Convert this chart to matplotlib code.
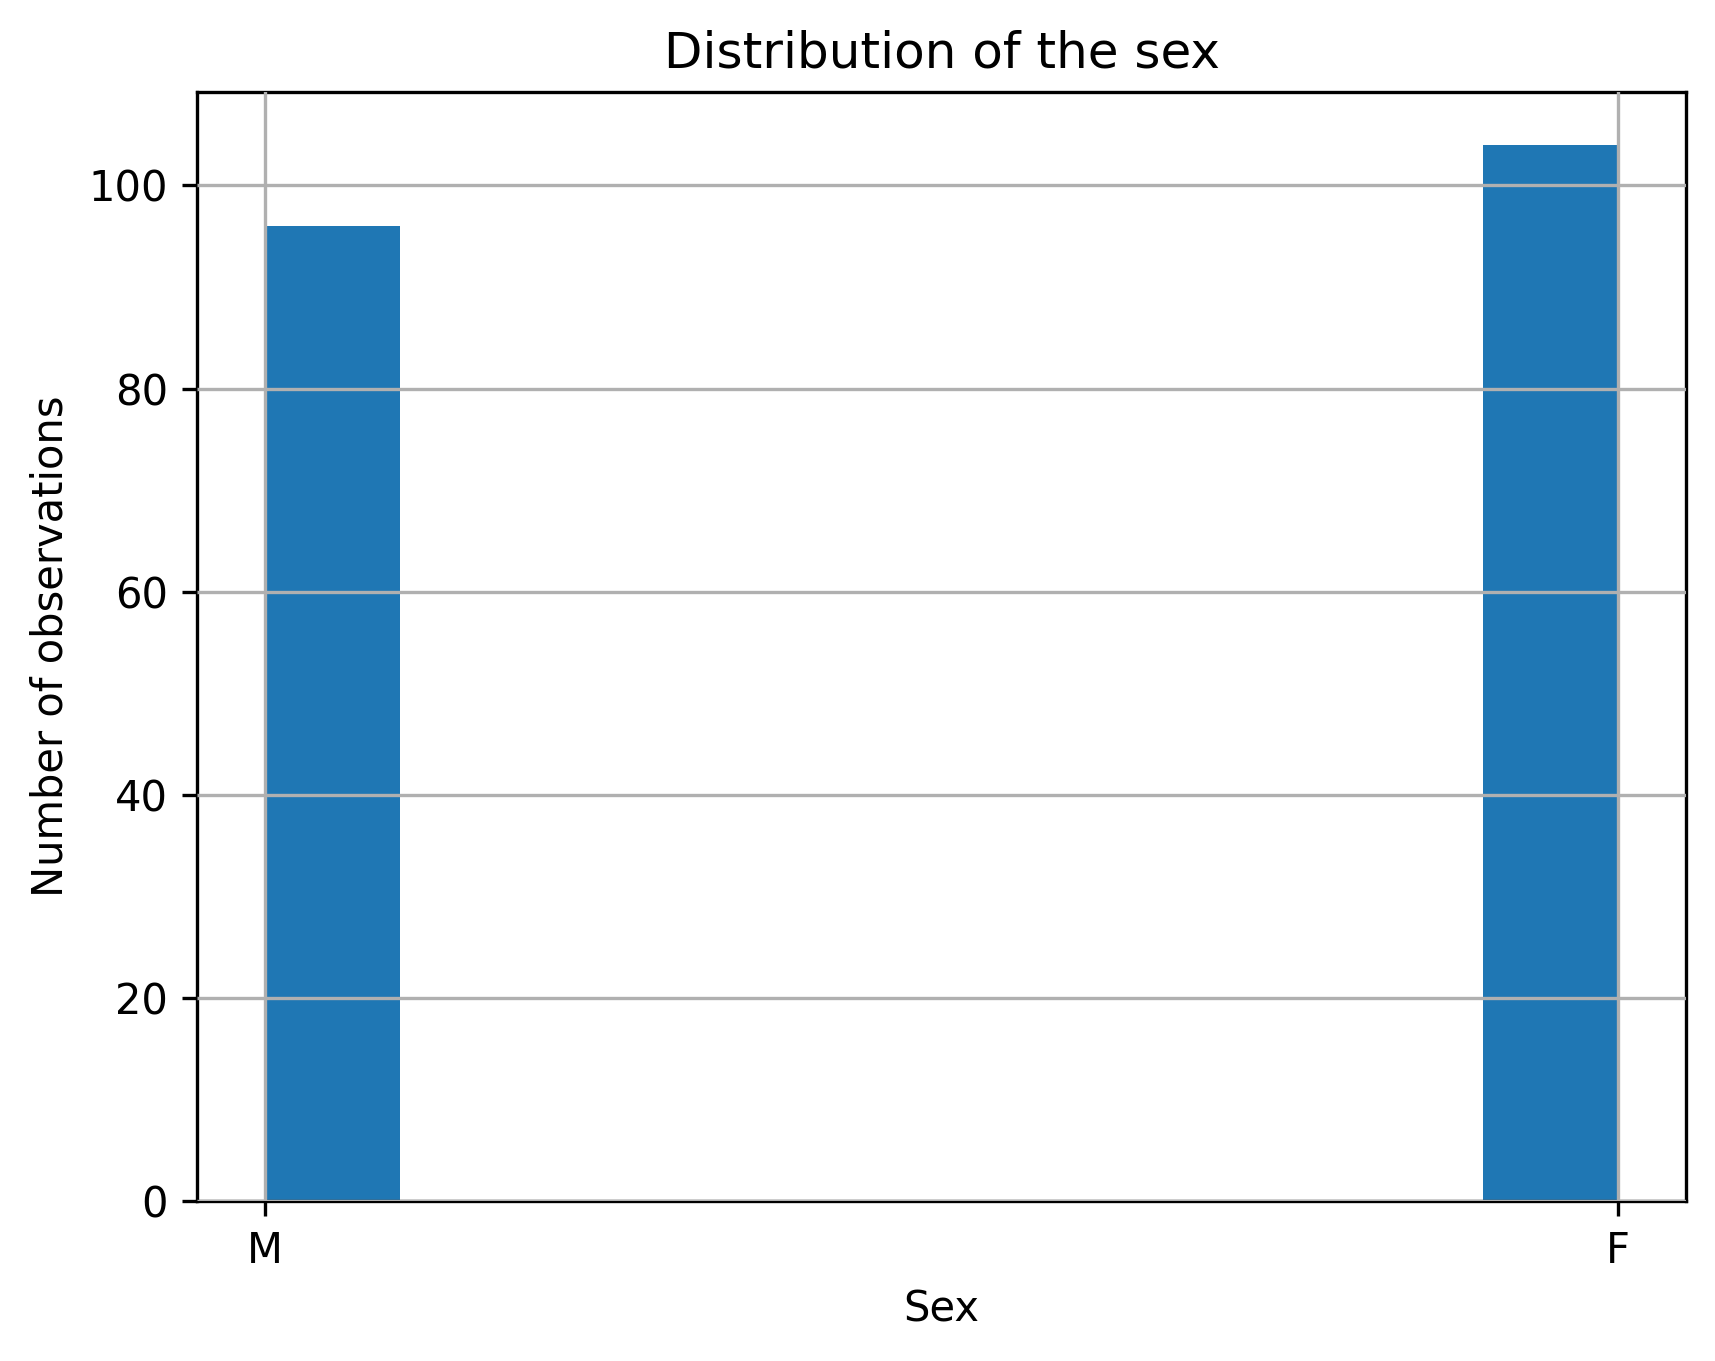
import matplotlib
matplotlib.use("Agg")
import matplotlib.pyplot as plt

categories = ["M", "F"]
counts = [96, 104]

fig = plt.figure(figsize=(1715 / 300, 1361 / 300), dpi=300)
ax = fig.add_subplot(111)
fig.subplots_adjust(left=197 / 1715, right=1686 / 1715, top=1 - 92 / 1361, bottom=1 - 1201 / 1361)

ax.hist(categories, bins=10, weights=counts, color="#1f77b4")
ax.grid(True)
ax.set_axisbelow(False)
ax.set_title("Distribution of the sex")
ax.set_xlabel("Sex")
ax.set_ylabel("Number of observations")

fig.savefig("out.png", dpi=300)
